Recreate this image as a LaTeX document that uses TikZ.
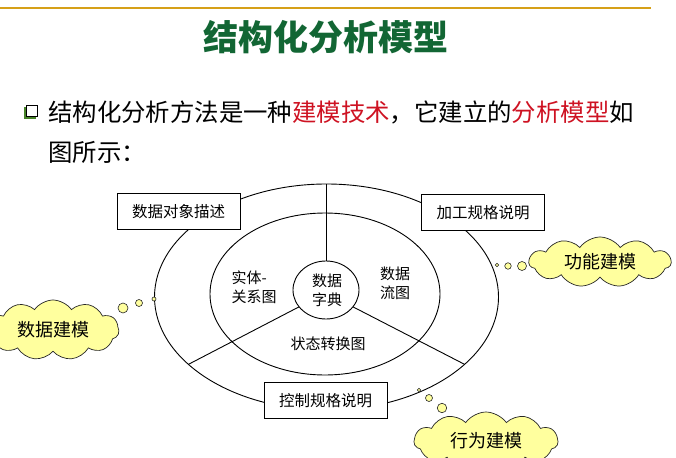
\documentclass[tikz,border=0pt]{standalone}
\usepackage{fontspec}
\setmainfont{Liberation Sans}
\newfontfamily\cjk{Noto Sans CJK SC}
\usetikzlibrary{shapes.geometric,shapes.symbols}

\definecolor{titlegreen}{RGB}{18,102,52}
\definecolor{keyred}{RGB}{206,18,34}
\definecolor{rulegold}{RGB}{214,160,24}
\definecolor{cloudyellow}{RGB}{255,255,158}
\definecolor{bulletgreen}{RGB}{70,130,40}

\tikzset{
  ring/.style={ellipse, draw, line width=0.9pt, inner sep=0pt, outer sep=0pt},
  spoke/.style={line width=0.9pt},
  specbox/.style={draw, fill=white, line width=0.9pt, minimum width=123,
    minimum height=36, inner sep=0pt, outer sep=0pt,
    font=\cjk\fontsize{15.5}{18}\selectfont},
  lbl/.style={inner sep=0pt, align=center, font=\cjk\fontsize{15}{19}\selectfont},
  thought/.style={cloud, cloud puffs=11, cloud puff arc=110, cloud ignores aspect,
    draw=black!85, fill=cloudyellow, line width=0.7pt, inner sep=0pt,
    font=\cjk\fontsize{18}{20}\selectfont},
  puff/.style={circle, draw=black!85, fill=cloudyellow, line width=0.6pt,
    inner sep=0pt, outer sep=0pt}
}

\begin{document}
\begin{tikzpicture}[x=1pt, y=-1pt]
\useasboundingbox (0,0) rectangle (676,457);
\clip (0,0) rectangle (676,457);

% rule across the top
\coordinate (ruleL) at (0,8);
\coordinate (ruleR) at (651,8);
\draw[rulegold, line width=2pt] (ruleL) -- (ruleR);

% heading
\node[inner sep=0pt, text=titlegreen, font=\cjk\bfseries\fontsize{35}{40}\selectfont]
  (title) at (326,37) {结构化分析模型};

% bullet box with its shadow
\fill[bulletgreen] (24,107) rectangle (35.5,119);
\draw[fill=white, line width=0.8pt] (26,105) rectangle (37,116.5);

% bullet text
\node[anchor=west, inner sep=0pt, font=\cjk\fontsize{24.4}{28}\selectfont]
  (line1) at (48,112) {结构化分析方法是一种\textcolor{keyred}{建模技术}，它建立的\textcolor{keyred}{分析模型}如};
\node[anchor=west, inner sep=0pt, font=\cjk\fontsize{24.4}{28}\selectfont]
  (line2) at (48,152) {图所示：};

% three nested rings
\node[ring, minimum width=344, minimum height=226] (outer) at (326.5,297) {};
\node[ring, minimum width=230, minimum height=162] (inner) at (325,294) {};
\node[ring, minimum width=66, minimum height=58] (dict) at (326,290) {};

% spokes
\draw[spoke] (dict.north) -- (dict.north |- outer.north);
\draw[spoke] (dict.212) -- (outer.206);
\draw[spoke] (dict.328) -- (outer.334);

% ring labels
\node[lbl] (dd) at (327,290) {数据\\字典};
\node[lbl, align=left] (er) at (254,287) {实体-\\关系图};
\node[lbl] (dfd) at (395,283) {数据\\流图};
\node[lbl] (std) at (328,344) {状态转换图};

% specification boxes
\node[specbox] (objdesc) at (178.5,211.5) {数据对象描述};
\node[specbox] (procspec) at (483,212.5) {加工规格说明};
\node[specbox] (ctrlspec) at (325.5,400.5) {控制规格说明};

% thought clouds and their trailing bubbles
\node[thought, minimum width=132, minimum height=60] (datamod) at (53,330) {数据建模};
\node[puff, minimum size=10] (dm1) at (123,308) {};
\node[puff, minimum size=7] (dm2) at (139,303) {};
\node[puff, minimum size=4] (dm3) at (154,299) {};

\node[thought, minimum width=142, minimum height=50] (funcmod) at (600,262) {功能建模};
\node[puff, minimum size=9] (fm1) at (522,266) {};
\node[puff, minimum size=6.5] (fm2) at (508,266) {};
\node[puff, minimum size=3.5] (fm3) at (497,265) {};

\node[thought, minimum width=144, minimum height=58] (behmod) at (486,441) {行为建模};
\node[puff, minimum size=9.5] (bm1) at (442,408) {};
\node[puff, minimum size=7] (bm2) at (429,398) {};
\node[puff, minimum size=3.5] (bm3) at (419,390) {};
\end{tikzpicture}
\end{document}
